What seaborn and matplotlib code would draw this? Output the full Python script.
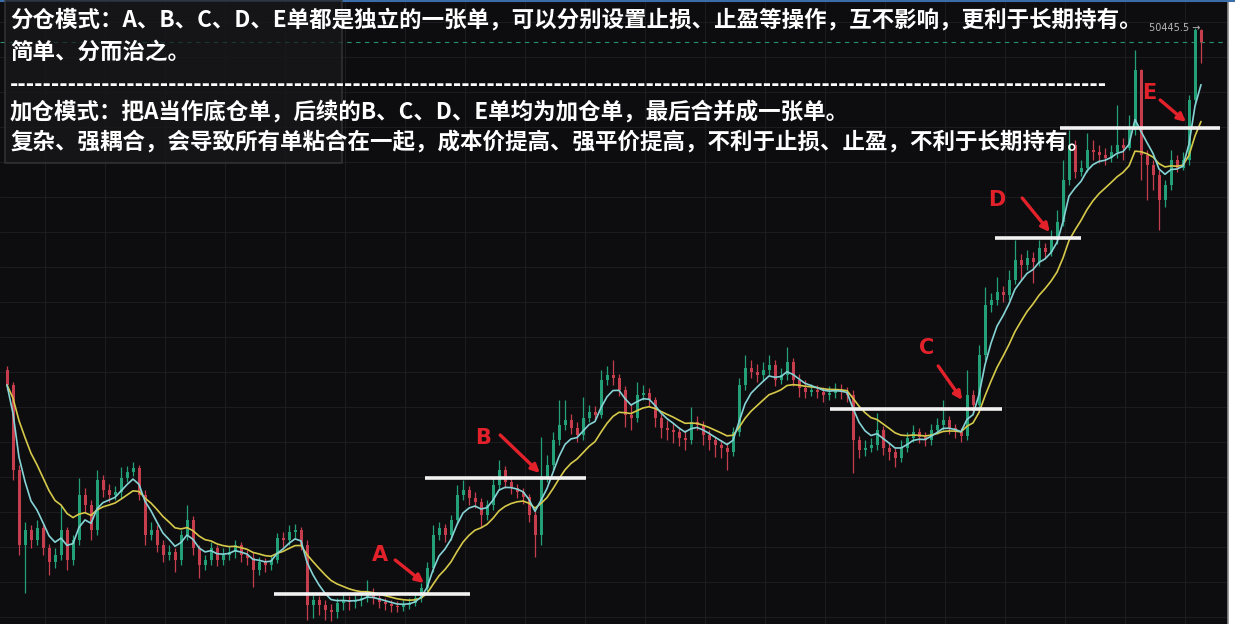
import numpy as np
import pandas as pd
import matplotlib
matplotlib.use("Agg")
import matplotlib.pyplot as plt
from matplotlib.patches import Rectangle
import seaborn as sns

# ---- candle data (one candle per period) ----
closes = [
    43300, 41600, 40100, 40400, 40200, 40440, 40040, 39760, 39900, 40400,
    39800, 40200, 41100, 40900, 40400, 41400, 41200, 41100, 41160, 41440,
    41560, 41640, 41100, 40300, 40400, 40100, 39900, 39960, 39800, 40300,
    40600, 40040, 39700, 39800, 40040, 39800, 39900, 39960, 40100, 39900,
    39840, 39600, 39760, 39700, 39800, 40240, 40200, 40360, 40400, 40100,
    38900, 39000, 38900, 38800, 38760, 38940, 39000, 38960, 39000, 39040,
    39160, 39040, 38960, 38920, 38880, 38860, 38900, 38940, 39040, 39240,
    39640, 40300, 40440, 40300, 40600, 41100, 41200, 41040, 40960, 40700,
    40900, 41300, 41600, 41360, 41240, 41160, 41060, 40700, 40300, 41440,
    41700, 42200, 42500, 42600, 42440, 42300, 42640, 42760, 42700, 43400,
    43500, 43440, 43200, 42700, 42640, 43100, 43140, 43000, 42640, 42440,
    42400, 42360, 42240, 42200, 42560, 42500, 42300, 42200, 42100, 42040,
    41960, 42360, 43300, 43640, 43560, 43500, 43600, 43700, 43400, 43500,
    43760, 43400, 43240, 43160, 43200, 43160, 43100, 43140, 43200, 43160,
    43100, 42200, 42000, 42040, 42100, 42400, 42040, 41960, 41840, 42040,
    42240, 42360, 42260, 42200, 42400, 42500, 42600, 42440, 42360, 42280,
    43100, 42900, 43900, 44900, 45000, 45160, 45100, 45400, 45800, 45700,
    45840, 45760, 46040, 45960, 46200, 46560, 47400, 48100, 47560, 47640,
    48000, 47960, 47900, 47840, 47960, 48100, 48040, 48400, 49600, 47900,
    47700, 47500, 47000, 47300, 47800, 47640, 47800, 49000, 50400, 50160,
]
highs = [
    43680, 43360, 41700, 40560, 40500, 40600, 40500, 40120, 40040, 40900,
    40460, 40300, 41440, 41240, 41000, 41600, 41500, 41320, 41280, 41660,
    41680, 41760, 41700, 41200, 40560, 40500, 40200, 40100, 40040, 40400,
    40900, 40680, 40100, 39900, 40160, 40100, 40040, 40080, 40200, 40160,
    40000, 39960, 39860, 39840, 39900, 40340, 40360, 40500, 40520, 40460,
    40200, 39100, 39080, 39000, 38920, 39040, 39120, 39080, 39100, 39160,
    39400, 39240, 39100, 39040, 39000, 38980, 39000, 39040, 39120, 39340,
    39760, 40500, 40560, 40520, 40700, 41300, 41400, 41280, 41160, 41040,
    41000, 41440, 41800, 41680, 41480, 41320, 41240, 41120, 40800, 42260,
    41900, 42360, 43000, 43000, 42720, 42560, 43060, 42900, 42880, 43600,
    43680, 43800, 43520, 43280, 42920, 43360, 43300, 43240, 43060, 42720,
    42600, 42540, 42460, 42400, 42860, 42680, 42580, 42400, 42280, 42200,
    42160, 42460, 43440, 43900, 43800, 43720, 43760, 43900, 43800, 43640,
    44060, 43840, 43520, 43400, 43320, 43300, 43260, 43280, 43340, 43320,
    43260, 43200, 42280, 42200, 42240, 42740, 42480, 42140, 42040, 42200,
    42360, 42500, 42440, 42360, 42520, 42640, 43000, 42680, 42520, 42440,
    43600, 43200, 44100, 45260, 45140, 45460, 45280, 45600, 46200, 45920,
    46000, 45960, 46200, 46140, 46400, 46800, 47800, 48400, 48200, 47800,
    48340, 48200, 48100, 48040, 48100, 48900, 48240, 48700, 50000, 49620,
    48000, 47800, 47600, 47400, 48000, 47900, 47960, 49100, 50445.5, 50420,
]
lows = [
    43200, 41400, 39900, 39140, 40040, 40100, 39900, 39500, 39640, 39800,
    39600, 39700, 40100, 40760, 40200, 40300, 41060, 40960, 41000, 41040,
    41360, 41480, 41000, 40100, 40200, 39960, 39760, 39800, 39560, 39700,
    40200, 39900, 39440, 39600, 39700, 39680, 39700, 39800, 39840, 39760,
    39700, 39260, 39500, 39560, 39600, 39740, 40060, 40100, 40240, 40000,
    38600, 38640, 38700, 38600, 38580, 38640, 38800, 38800, 38840, 38880,
    38960, 38920, 38840, 38800, 38760, 38760, 38780, 38820, 38880, 38960,
    39160, 39560, 40200, 40160, 40200, 40520, 41000, 40900, 40840, 40460,
    40600, 40800, 41200, 41240, 41120, 41040, 40920, 40560, 39860, 40100,
    41360, 41600, 42100, 42400, 42320, 42160, 42200, 42560, 42600, 42640,
    43300, 43300, 43080, 42460, 42400, 42560, 43000, 42880, 42460, 42240,
    42200, 42140, 42080, 42000, 42120, 42400, 42100, 42000, 41860, 41840,
    41600, 41880, 42280, 43200, 43440, 43360, 43400, 43500, 43280, 43320,
    43400, 43280, 43060, 43040, 43080, 43040, 42960, 43000, 43040, 43020,
    42960, 41540, 41840, 41880, 41960, 42000, 41900, 41800, 41660, 41760,
    41960, 42160, 42140, 42080, 42100, 42320, 42400, 42320, 42240, 42160,
    42200, 42740, 42800, 43800, 44760, 44900, 44960, 45000, 45320, 45400,
    45600, 45340, 45680, 45840, 45880, 46120, 46480, 47300, 47440, 47480,
    47560, 47800, 47740, 47700, 47760, 47840, 47800, 48000, 48300, 47400,
    47000, 47200, 46400, 46860, 47200, 47560, 47600, 47700, 48900, 49740,
]
first_open = 43600

# ---- entry levels A..E ----
level_names = ["A", "B", "C", "D", "E"]
level_prices = [39120, 41440, 42820, 46240, 48440]
level_from = [44.5, 69.7, 137.2, 164.7, 175.5]
level_to = [77.2, 96.5, 165.8, 179.0, 202.2]

note_lines = [
    "分仓模式：A、B、C、D、E单都是独立的一张单，可以分别设置止损、止盈等操作，互不影响，更利于长期持有。",
    "简单、分而治之。",
    "-" * 131,
    "加仓模式：把A当作底仓单，后续的B、C、D、E单均为加仓单，最后合并成一张单。",
    "复杂、强耦合，会导致所有单粘合在一起，成本价提高、强平价提高，不利于止损、止盈，不利于长期持有。",
]

df = pd.DataFrame({"close": closes, "high": highs, "low": lows})
df["open"] = [first_open] + closes[:-1]
df["idx"] = np.arange(len(df))
df["high"] = df[["high", "open", "close"]].max(axis=1)
df["low"] = df[["low", "open", "close"]].min(axis=1)
df["ma_fast"] = df["close"].ewm(span=5, adjust=False).mean()
df["ma_slow"] = df["close"].ewm(span=12, adjust=False).mean()

BG = "#0d0d0f"
UP = "#23a077"
DOWN = "#c63d4d"

sns.set_theme(style="dark", rc={"axes.facecolor": BG, "figure.facecolor": "white"})
plt.rcParams["font.family"] = ["Noto Sans CJK SC", "DejaVu Sans"]

fig = plt.figure(figsize=(12.35, 6.24), dpi=100)
ax = fig.add_axes([0, 0, 1228 / 1235, 1])
ax.set_facecolor(BG)

# grid
ax.set_xticks(np.arange(6.33, 204, 10))
ax.set_yticks(np.arange(38660, 51000, 700))
ax.grid(True, color="#1b1b20", linewidth=0.8)
ax.tick_params(left=False, bottom=False, labelleft=False, labelbottom=False)
for s in ["left", "top", "bottom"]:
    ax.spines[s].set_visible(False)
ax.spines["right"].set_color("#8a8a8a")
ax.spines["right"].set_linewidth(1.2)

# candles
up = df["close"] >= df["open"]
colors = np.where(up, UP, DOWN)
ax.vlines(df["idx"], df["low"], df["high"], colors=colors, linewidth=0.9, zorder=2)
body = (df["close"] - df["open"]).abs().clip(lower=30)
ax.bar(df["idx"], body, bottom=df[["open", "close"]].min(axis=1), width=0.5,
       color=colors, linewidth=0, zorder=2)

# moving averages
sns.lineplot(data=df, x="idx", y="ma_slow", color="#d6c94a", linewidth=1.2, ax=ax, zorder=3)
sns.lineplot(data=df, x="idx", y="ma_fast", color="#86d3d6", linewidth=1.2, ax=ax, zorder=4)

# last price line and max label
ax.axhline(closes[-1], color="#2a8f6f", linestyle=(0, (4, 4)), linewidth=0.8, zorder=1)
imax = int(np.argmax(highs))
ax.text(imax + 0.9, max(highs), f"{max(highs)} →", ha="right", va="center",
        color="#b5b5b5", fontsize=7, family=["DejaVu Sans"], zorder=6)

# entry levels
ax.hlines(level_prices, level_from, level_to, color="#f2f2f2", linewidth=2.6, zorder=5)

letter_pos = [(62.2, 39900), (79.3, 42240), (153.2, 44040), (165.0, 47000), (190.4, 49140)]
arrow_from = [(64.7, 39800), (82.2, 42300), (155.2, 43680), (169.2, 47040), (192.2, 49000)]
arrow_to = [(69.5, 39340), (88.8, 41540), (159.2, 43000), (173.8, 46360), (196.5, 48560)]
RED = "#e3212b"
for name, tp, a0, a1 in zip(level_names, letter_pos, arrow_from, arrow_to):
    ax.text(tp[0], tp[1], name, color=RED, fontsize=15, fontweight="bold",
            ha="center", va="center", family=["DejaVu Sans"], zorder=6)
    ax.annotate("", xy=a1, xytext=a0,
                arrowprops=dict(arrowstyle="-|>", color=RED, lw=2.4, mutation_scale=12,
                                shrinkA=0, shrinkB=0), zorder=6)

ax.set_xlim(-7 / 6, 203.5)
ax.set_ylim(38520, 51000)
ax.set_xlabel("")
ax.set_ylabel("")

# note box + text
fig.add_artist(Rectangle((5 / 1235, 1 - 163 / 624), 337 / 1235, 163 / 624,
                         transform=fig.transFigure, facecolor="#18181b", alpha=0.75,
                         edgecolor="#3a3a3e", linewidth=1.2, zorder=7))
line_y = [20, 52, 84, 112, 142]
for txt, yy in zip(note_lines, line_y):
    fig.text(10 / 1235, 1 - yy / 624, txt, color="white", fontsize=16.2,
             fontweight="bold", ha="left", va="center", zorder=8)

fig.add_artist(plt.Line2D([0, 1], [0.998, 0.998], color="#3b6ea8", lw=1.5,
                          transform=fig.transFigure))

fig.savefig("out.png", dpi=100)
